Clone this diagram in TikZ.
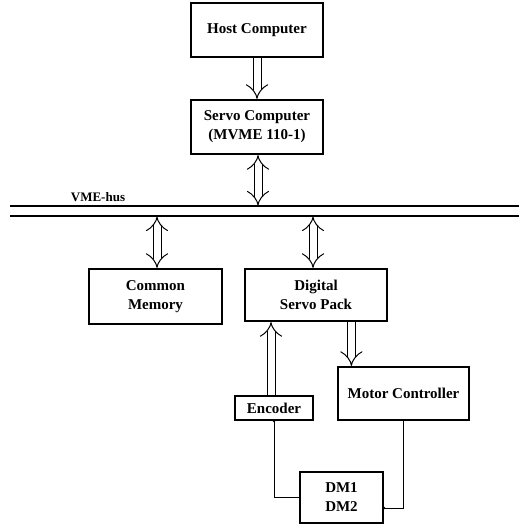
\documentclass[tikz,border=0pt]{standalone}
\usepackage{fontspec}
\setmainfont{Liberation Serif}
\usetikzlibrary{arrows.meta}
\begin{document}
\begin{tikzpicture}[x=1pt, y=-1pt, >={Implies[scale=1.7]},
    blk/.style={draw, line width=1.2pt, align=center, inner sep=0pt,
        font=\fontsize{15}{19}\selectfont\bfseries},
    dbl/.style={line width=1pt, double, double distance=7pt, shorten >=0.5pt, shorten <=0.5pt}]
    \useasboundingbox (0,0) rectangle (521,525);

    \node[blk, minimum width=132pt, minimum height=54pt] (host) at (257,30) {Host Computer};
    \node[blk, minimum width=132pt, minimum height=54pt] (servo) at (257,127) {Servo Computer\\(MVME 110-1)};
    \node[blk, minimum width=133pt, minimum height=55pt] (mem) at (155.5,296.5) {Common\\Memory};
    \node[blk, minimum width=142pt, minimum height=52pt] (dsp) at (316,295) {Digital\\Servo Pack};
    \node[blk, minimum width=131pt, minimum height=53pt] (mc) at (403.5,393.5) {Motor Controller};
    \node[blk, minimum width=78pt, minimum height=24pt] (enc) at (274,408) {Encoder};
    \node[blk, minimum width=83pt, minimum height=51pt] (dm) at (341.5,497.5) {DM1\\DM2};

    \coordinate (bustop) at (10,206);
    \coordinate (busbot) at (10,216);
    \draw[line width=1.2pt] (bustop) -- (519,206);
    \draw[line width=1.2pt] (busbot) -- (519,216);
    \node[font=\fontsize{13}{15}\selectfont\bfseries, anchor=base] (vme) at (98,201) {VME-hus};

    \draw[dbl, ->] (host.south) -- (servo.north);
    \draw[dbl, <->] ([xshift=1pt]servo.south) -- ([xshift=1pt]servo.south |- bustop);
    \draw[dbl, <->] ([xshift=1.5pt]mem.north |- busbot) -- ([xshift=1.5pt]mem.north);
    \draw[dbl, <->] ([xshift=-3pt]dsp.north |- busbot) -- ([xshift=-3pt]dsp.north);
    \draw[dbl, ->] ([xshift=14pt]mc.north west |- dsp.south) -- ([xshift=14pt]mc.north west);
    \draw[dbl, ->] ([xshift=-3pt]enc.north) -- ([xshift=-3pt]enc.north |- dsp.south);

    \draw[line width=1pt] (enc.south) |- (dm.west);
    \draw[line width=1pt] (mc.south) |- ([yshift=-10.5pt]dm.east);
    \fill (enc.south) circle (1.8pt);
    \fill ([yshift=-10.5pt]dm.east) circle (1.8pt);
\end{tikzpicture}
\end{document}
